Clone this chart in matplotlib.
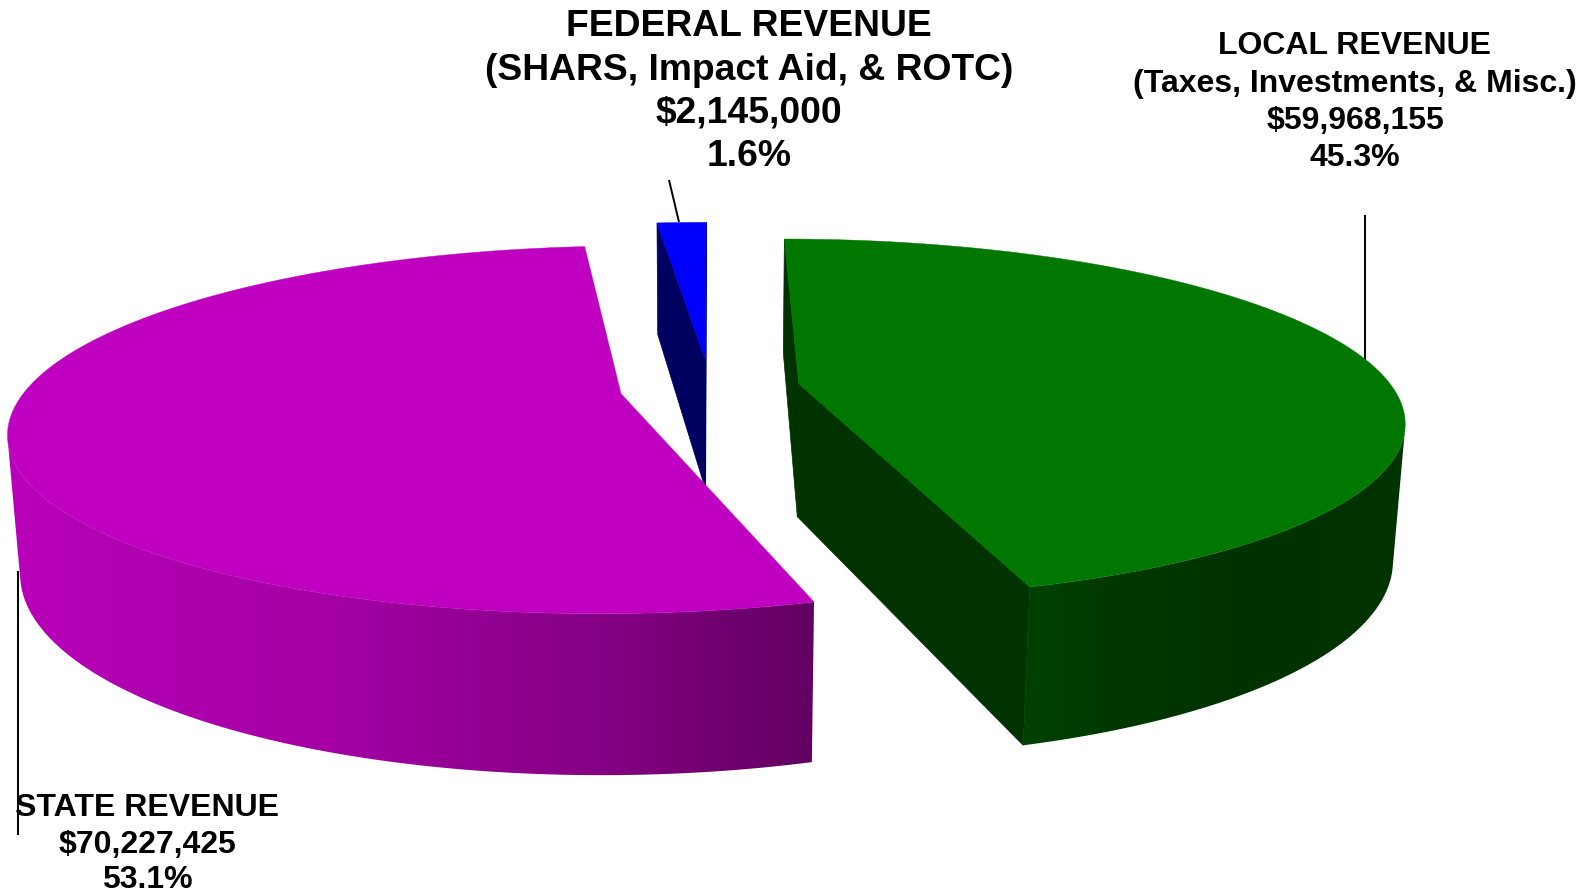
import numpy as np
import matplotlib
matplotlib.use("Agg")
import matplotlib.pyplot as plt
from matplotlib.colors import to_rgb
from matplotlib.patches import Polygon

# Revenue by source, in dollars
sources = ["LOCAL REVENUE", "STATE REVENUE", "FEDERAL REVENUE"]
details = ["(Taxes, Investments, & Misc.)", None, "(SHARS, Impact Aid, & ROTC)"]
revenue = [59968155, 70227425, 2145000]

top_colors = ["#007800", "#C000C0", "#0000FF"]
face_colors = ["#003300", "#600060", "#000060"]
# wall shading as (image x, colour) stops
wall_stops = [
    ([1030, 1120, 1250, 1400], ["#004000", "#003800", "#003200", "#003400"]),
    ([20, 330, 600, 815], ["#B800B8", "#A400A4", "#840084", "#620062"]),
    ([640, 710], ["#000060", "#000060"]),
]

# Perspective camera for the pie: top plane, then extrusion towards a vanishing point
X0, Y_HORIZON, Y_SPAN = 710.0, -507.0, 895.0
S_R, S_E = 594.0, 90.2
U_R = 0.195
OFFSET_Y = 0.165
DEPTH = 0.0173
NADIR = np.array([710.0, 8233.0])


def project(px, py, bottom=False):
    """px, py are in pie radii (px right, py away from the viewer)."""
    w = 1 + U_R * py
    x = X0 + S_R * px / w
    y = Y_HORIZON + Y_SPAN / w
    if bottom:
        x = (w * x + DEPTH * NADIR[0]) / (w + DEPTH)
        y = (w * y + DEPTH * NADIR[1]) / (w + DEPTH)
    return np.column_stack([np.atleast_1d(x), np.atleast_1d(y)])


def shoelace(p):
    q = np.roll(p, -1, axis=0)
    return np.sum(p[:, 0] * q[:, 1] - q[:, 0] * p[:, 1])


def gradient_strip(x_lo, x_hi, stops):
    xs, cols = stops
    rgb = np.array([to_rgb(c) for c in cols])
    grid = np.arange(int(x_lo), int(x_hi) + 1) + 0.5
    return np.stack([np.interp(grid, xs, rgb[:, k]) for k in range(3)], axis=-1)[None, :, :]


fig = plt.figure(figsize=(15.84, 8.94), dpi=100, facecolor="white")
ax = fig.add_axes([0, 0, 1, 1])
ax.axis("off")

total = sum(revenue)
fractions = np.array(revenue) / total
edges = np.concatenate([[0], np.cumsum(fractions)]) * 2 * np.pi
explode = S_E / S_R

# Far slice first so nearer slices overlap it
for i in [2, 1, 0]:
    a0, a1 = edges[i], edges[i + 1]
    mid = (a0 + a1) / 2
    ox = explode * np.sin(mid)
    oy = OFFSET_Y * np.cos(mid)
    th = np.linspace(a0, a1, max(8, int((a1 - a0) / np.radians(0.5))))
    rim_x, rim_y = ox + np.sin(th), oy + np.cos(th)
    top = project(rim_x, rim_y)
    bot = project(rim_x, rim_y, bottom=True)
    apex_t = project(ox, oy)
    apex_b = project(ox, oy, bottom=True)
    layer = 2 + (2 - i) * 3

    # Outer wall: the part of the rim that faces the viewer, shaded left to right
    seen = [j for j in range(len(th) - 1)
            if shoelace(np.array([top[j], top[j + 1], bot[j + 1], bot[j]])) < 0]
    if seen:
        lo, hi = seen[0], seen[-1] + 1
        outline = np.vstack([top[lo:hi + 1], bot[lo:hi + 1][::-1]])
        x_lo, x_hi = np.floor(outline[:, 0].min()) - 1, np.ceil(outline[:, 0].max()) + 1
        y_lo, y_hi = outline[:, 1].min() - 1, outline[:, 1].max() + 1
        img = ax.imshow(gradient_strip(x_lo, x_hi, wall_stops[i]), aspect="auto",
                        extent=(x_lo, x_hi + 1, y_hi, y_lo), zorder=layer,
                        interpolation="bilinear")
        img.set_clip_path(Polygon(outline, closed=True, transform=ax.transData))

    # Cut faces along the two radii, kept only when turned towards the viewer
    start = np.array([apex_t[0], top[0], bot[0], apex_b[0]])
    end = np.array([top[-1], apex_t[0], apex_b[0], bot[-1]])
    for f in (start, end):
        if shoelace(f) < 0:
            ax.fill(f[:, 0], f[:, 1], color=face_colors[i], lw=0.5, zorder=layer)

    surface = np.vstack([apex_t, top])
    ax.fill(surface[:, 0], surface[:, 1], color=top_colors[i], lw=0.3, zorder=layer + 1)

ax.set_xlim(0, 1584)
ax.set_ylim(894, 0)

# Leader lines
leader = dict(color="black", lw=1.4, solid_capstyle="butt")
ax.plot([669, 679], [180, 222], zorder=1, **leader)
ax.plot([1365, 1365], [215, 362], zorder=1, **leader)
ax.plot([18, 18], [571, 835], zorder=20, **leader)


# Labels, one text per line
def label(i, cx, ys, size):
    lines = [sources[i]]
    if details[i]:
        lines.append(details[i])
    lines += [f"${revenue[i]:,}", f"{fractions[i] * 100:.1f}%"]
    for line, y in zip(lines, ys):
        ax.text(cx, y, line, ha="center", va="center", fontsize=size,
                fontweight="bold", family="Liberation Sans", color="black", zorder=30)


label(2, 749, [26.5, 70, 113.5, 157], 26.85)
label(0, 1355, [46.5, 84, 121, 158], 23)
label(1, 147, [808.5, 845, 880.5], 23)

fig.savefig("out.png", dpi=100, facecolor="white")
